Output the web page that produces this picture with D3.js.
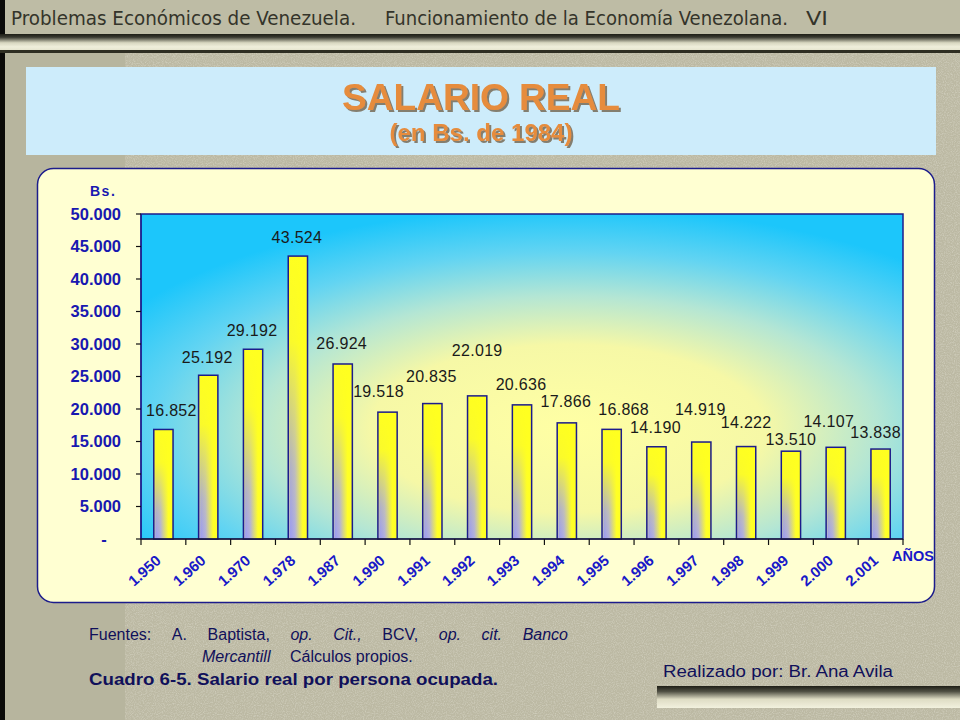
<!DOCTYPE html>
<html><head><meta charset="utf-8">
<script src="https://cdn.jsdelivr.net/npm/d3@7"></script>
<style>html,body{margin:0;padding:0;background:#bdbaa5;}svg{display:block;}</style>
</head><body>
<svg id="c" width="960" height="720"></svg>
<script>
// ---- data ----
const years = ["1.950","1.960","1.970","1.978","1.987","1.990","1.991","1.992","1.993","1.994","1.995","1.996","1.997","1.998","1.999","2.000","2.001"];
const salario = [16852,25192,29192,43524,26924,19518,20835,22019,20636,17866,16868,14190,14919,14222,13510,14107,13838];
const yTicks = [0,5000,10000,15000,20000,25000,30000,35000,40000,45000,50000];
// label nudges (pixels) relative to bar top-centre
const labelNudge = [[8,-13],[-1,-12],[-1,-13],[-1,-13],[-1,-15],[-9,-15],[-1,-22],[0,-40],[-1,-15],[-1,-16],[12,-14],[-1,-14],[-1,-27],[0,-19],[0,-6],[-7,-20],[-5,-11]];

const svg = d3.select("#c");
const defs = svg.append("defs");
const fmt = v => v === 0 ? "-" : d3.format(",")(v).replace(/,/g, ".");

// noise filter
const f = defs.append("filter").attr("id","noise").attr("x",0).attr("y",0).attr("width","100%").attr("height","100%");
f.append("feTurbulence").attr("type","fractalNoise").attr("baseFrequency",0.9).attr("numOctaves",2).attr("seed",3).attr("result","n");
f.append("feColorMatrix").attr("in","n").attr("type","matrix")
 .attr("values","0 0 0 0 1  0 0 0 0 1  0 0 0 0 0.95  0 0 0 1.1 -0.45");
// title shadow filter
const sh = defs.append("filter").attr("id","tsh").attr("x","-10%").attr("y","-20%").attr("width","120%").attr("height","150%");
sh.append("feDropShadow").attr("dx",2).attr("dy",2).attr("stdDeviation",0.6).attr("flood-color","#6b5a40").attr("flood-opacity",0.75);

// background
svg.append("rect").attr("x",0).attr("y",0).attr("width",960).attr("height",720).attr("fill","#b7b59e");
svg.append("rect").attr("x",125).attr("y",53).attr("width",835).attr("height",667).attr("fill","#bcb9a3");
svg.append("rect").attr("x",125).attr("y",53).attr("width",835).attr("height",667).attr("fill","#fff").attr("filter","url(#noise)").attr("opacity",0.55);
svg.append("rect").attr("x",0).attr("y",0).attr("width",5).attr("height",720).attr("fill","#0a0a08");

// top bar
svg.append("rect").attr("x",5).attr("y",0).attr("width",955).attr("height",34).attr("fill","#bebca5");
const hg = defs.append("linearGradient").attr("id","hg").attr("x1",0).attr("y1",0).attr("x2",0).attr("y2",1);
hg.append("stop").attr("offset",0).attr("stop-color","#1e1e16");
hg.append("stop").attr("offset",0.2).attr("stop-color","#3a3a30");
hg.append("stop").attr("offset",0.55).attr("stop-color","#d8d7c0");
hg.append("stop").attr("offset",0.8).attr("stop-color","#efeedb");
hg.append("stop").attr("offset",1).attr("stop-color","#e6e5cf");
svg.append("rect").attr("x",0).attr("y",34).attr("width",960).attr("height",16).attr("fill","url(#hg)");
svg.append("rect").attr("x",0).attr("y",50).attr("width",960).attr("height",3).attr("fill","#2e2e22");

const hdr = svg.append("g").attr("font-family","'DejaVu Sans Condensed','DejaVu Sans',sans-serif").attr("font-size",19).attr("fill","#34342a");
hdr.append("text").attr("x",11).attr("y",25).attr("textLength",345).attr("lengthAdjust","spacingAndGlyphs").text("Problemas Económicos de Venezuela.");
hdr.append("text").attr("x",385).attr("y",25).attr("textLength",403).attr("lengthAdjust","spacingAndGlyphs").text("Funcionamiento de la Economía Venezolana.");
hdr.append("text").attr("x",806).attr("y",25).attr("textLength",22).attr("lengthAdjust","spacingAndGlyphs").text("VI");

// title box
svg.append("rect").attr("x",26).attr("y",67).attr("width",910).attr("height",88).attr("fill","#cdecfb");
const tt = svg.append("g").attr("font-family","'Liberation Sans',Arial,sans-serif").attr("font-weight","bold").attr("text-anchor","middle").attr("filter","url(#tsh)");
tt.append("text").attr("x",481).attr("y",110).attr("font-size",36).attr("fill","#e68c3c").attr("textLength",278).attr("lengthAdjust","spacingAndGlyphs").text("SALARIO REAL");
tt.append("text").attr("x",481).attr("y",141).attr("font-size",23).attr("fill","#e68c3c").attr("textLength",183).attr("lengthAdjust","spacingAndGlyphs").text("(en Bs. de 1984)");

// chart panel
svg.append("rect").attr("x",37.5).attr("y",168.5).attr("width",897).attr("height",434).attr("rx",16).attr("ry",16)
  .attr("fill","#ffffd2").attr("stroke","#1c1c8c").attr("stroke-width",1.5);

// plot area
const pL=141, pR=903, pT=214, pB=539;
const x = d3.scaleBand().domain(years).range([pL,pR]).paddingInner(0.57).paddingOuter(0.285);
const y = d3.scaleLinear().domain([0,50000]).range([pB,pT]);

const pg = defs.append("radialGradient").attr("id","pg").attr("cx",0.56).attr("cy",0.66).attr("r",0.68).attr("fx",0.56).attr("fy",0.66);
pg.append("stop").attr("offset",0).attr("stop-color","#ffffa4");
pg.append("stop").attr("offset",0.38).attr("stop-color","#f6f8a6");
pg.append("stop").attr("offset",0.6).attr("stop-color","#b4e6d4");
pg.append("stop").attr("offset",0.8).attr("stop-color","#62d4f2");
pg.append("stop").attr("offset",1).attr("stop-color","#1cc6fb");
svg.append("rect").attr("x",pL).attr("y",pT).attr("width",pR-pL).attr("height",pB-pT).attr("fill","url(#pg)")
  .attr("stroke","#1c1c8c").attr("stroke-width",1.5);

// bar gradients
const bh = defs.append("linearGradient").attr("id","bh").attr("x1",0).attr("y1",0).attr("x2",1).attr("y2",0);
bh.append("stop").attr("offset",0).attr("stop-color","#c8c8b0");
bh.append("stop").attr("offset",0.12).attr("stop-color","#9c9cf2");
bh.append("stop").attr("offset",0.35).attr("stop-color","#b0aee0");
bh.append("stop").attr("offset",0.75).attr("stop-color","#ffff2a");
bh.append("stop").attr("offset",1).attr("stop-color","#ffff20");
const bv = defs.append("linearGradient").attr("id","bv").attr("x1",0).attr("y1",0).attr("x2",0).attr("y2",1);
bv.append("stop").attr("offset",0).attr("stop-color","#ffff20").attr("stop-opacity",1);
bv.append("stop").attr("offset",0.3).attr("stop-color","#ffff20").attr("stop-opacity",0.95);
bv.append("stop").attr("offset",0.75).attr("stop-color","#ffff20").attr("stop-opacity",0.2);
bv.append("stop").attr("offset",1).attr("stop-color","#ffff20").attr("stop-opacity",0);

const bars = svg.append("g");
bars.selectAll("rect.b1").data(salario).join("rect").attr("class","b1")
  .attr("x",(d,i)=>x(years[i])).attr("y",d=>y(d)).attr("width",x.bandwidth()).attr("height",d=>y(0)-y(d))
  .attr("fill","url(#bh)");
bars.selectAll("rect.b2").data(salario).join("rect").attr("class","b2")
  .attr("x",(d,i)=>x(years[i])).attr("y",d=>y(d)).attr("width",x.bandwidth()).attr("height",d=>y(0)-y(d))
  .attr("fill","url(#bv)").attr("stroke","#1c1c8c").attr("stroke-width",1.5);

// axes
const ax = svg.append("g").attr("stroke","#111").attr("stroke-width",1.2);
ax.append("line").attr("x1",pL).attr("x2",pL).attr("y1",pT).attr("y2",pB).attr("stroke","#1c1c8c");
ax.append("line").attr("x1",pL).attr("x2",pR).attr("y1",pB).attr("y2",pB);
ax.selectAll("line.yt").data(yTicks).join("line").attr("class","yt")
  .attr("x1",pL-5).attr("x2",pL).attr("y1",d=>y(d)).attr("y2",d=>y(d));
const step = x.step();
ax.selectAll("line.xt").data(d3.range(years.length+1)).join("line").attr("class","xt")
  .attr("x1",i=>pL+i*step).attr("x2",i=>pL+i*step).attr("y1",pB).attr("y2",pB+6);

// y labels
const yl = svg.append("g").attr("font-family","'Liberation Sans',Arial,sans-serif").attr("font-weight","bold").attr("font-size",16.5).attr("fill","#1818b0");
yl.selectAll("text").data(yTicks).join("text")
  .attr("x",d=>d===0?104:121).attr("y",d=>y(d)).attr("dy","0.36em").attr("text-anchor",d=>d===0?"middle":"end").text(fmt);
yl.append("text").attr("x",90).attr("y",196).attr("font-size",14).attr("letter-spacing",1.5).text("Bs.");

// x labels
const xl = svg.append("g").attr("font-family","'Liberation Sans',Arial,sans-serif").attr("font-weight","bold").attr("font-size",15).attr("fill","#1818c8");
xl.selectAll("text").data(years).join("text")
  .attr("transform",d=>`translate(${x(d)+x.bandwidth()/2-5},${pB+19}) rotate(-42)`)
  .attr("text-anchor","end").attr("dy","0.35em").text(d=>d);
xl.append("text").attr("x",892).attr("y",561).attr("font-size",14.5).text("AÑOS");

// value labels
svg.append("g").attr("font-family","'Liberation Sans',Arial,sans-serif").attr("font-size",16).attr("fill","#1a1a1a")
  .selectAll("text").data(salario).join("text")
  .attr("x",(d,i)=>x(years[i])+x.bandwidth()/2+labelNudge[i][0])
  .attr("y",(d,i)=>y(d)+labelNudge[i][1])
  .attr("text-anchor","middle").attr("letter-spacing",0.3).text(fmt);

// footer
const ft = svg.append("g").attr("font-family","'Liberation Sans',Arial,sans-serif").attr("font-size",16).attr("fill","#10105a");
const words = [["Fuentes:",false],["A.",false],["Baptista,",false],["op.",true],["Cit.,",true],["BCV,",false],["op.",true],["cit.",true],["Banco",true]];
const wt = ft.selectAll("text.w").data(words).join("text").attr("class","w").attr("y",640)
  .attr("font-style",d=>d[1]?"italic":"normal").text(d=>d[0]);
const ws = wt.nodes().map(n=>n.getComputedTextLength());
const total = d3.sum(ws), gap = (568-89-total)/(words.length-1);
let cx = 89;
wt.attr("x",(d,i)=>{const v=cx; cx+=ws[i]+gap; return v;});
ft.append("text").attr("x",202).attr("y",662).attr("font-style","italic").text("Mercantill");
ft.append("text").attr("x",290).attr("y",662).text("Cálculos propios.");
ft.append("text").attr("x",89).attr("y",685).attr("font-weight","bold").attr("textLength",409).attr("lengthAdjust","spacingAndGlyphs").text("Cuadro 6-5. Salario real por persona ocupada.");
ft.append("text").attr("x",663).attr("y",677).attr("textLength",230).attr("lengthAdjust","spacingAndGlyphs").text("Realizado por: Br. Ana Avila");

const fg = defs.append("linearGradient").attr("id","fg").attr("x1",0).attr("y1",0).attr("x2",0).attr("y2",1);
fg.append("stop").attr("offset",0).attr("stop-color","#1e1e16");
fg.append("stop").attr("offset",0.25).attr("stop-color","#505044");
fg.append("stop").attr("offset",0.6).attr("stop-color","#dedcc4");
fg.append("stop").attr("offset",1).attr("stop-color","#f2f1de");
svg.append("rect").attr("x",657).attr("y",686).attr("width",303).attr("height",22).attr("fill","url(#fg)");
</script>
</body></html>
